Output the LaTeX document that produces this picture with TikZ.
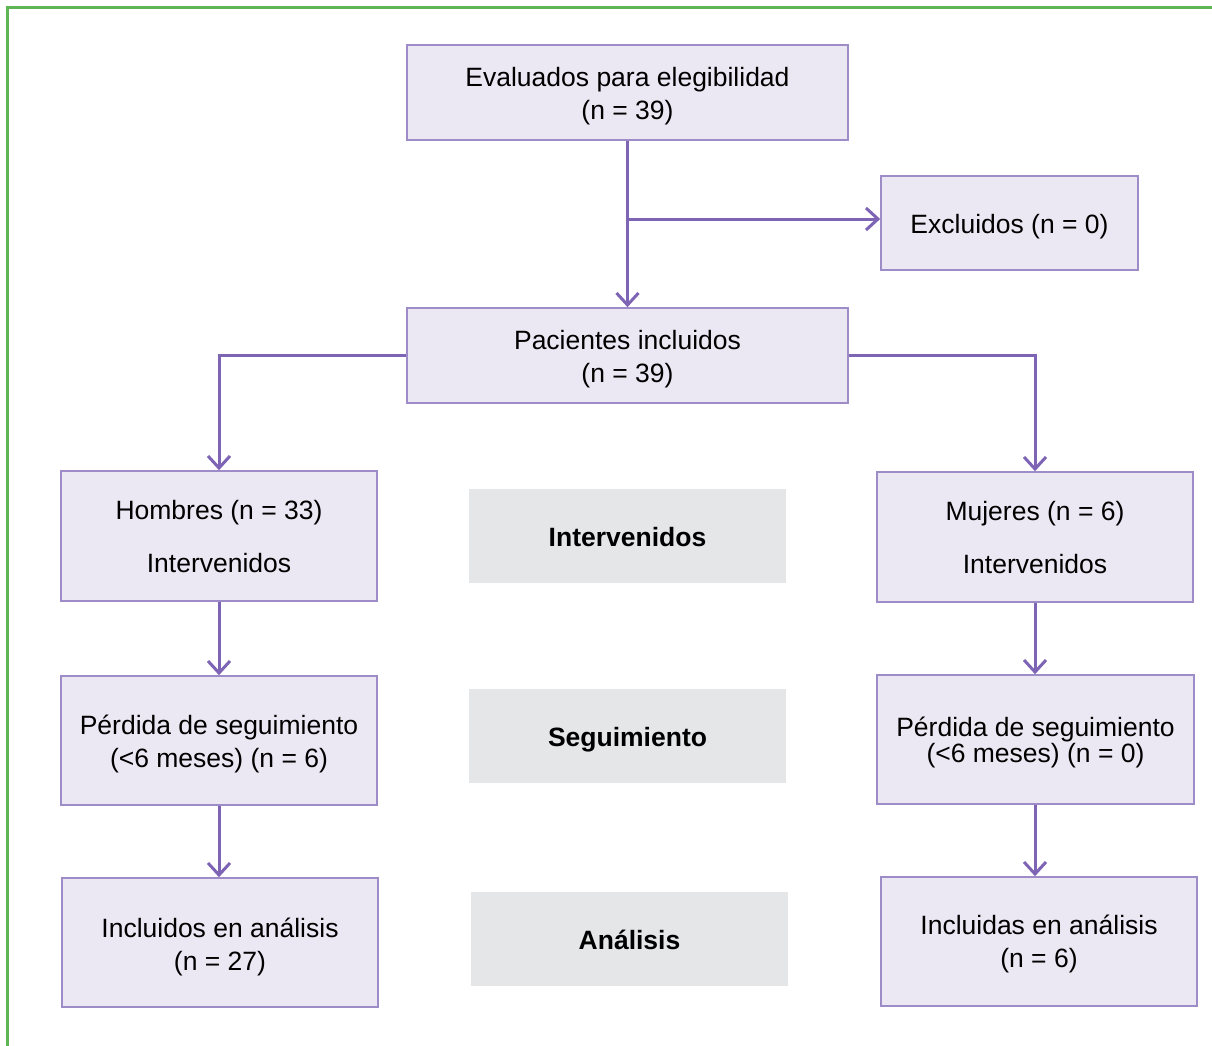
\documentclass[tikz,border=0pt]{standalone}
\usepackage{fontspec}
\setmainfont{Liberation Sans}
\usetikzlibrary{arrows.meta}
\definecolor{boxfill}{RGB}{236,232,243}
\definecolor{boxborder}{RGB}{158,140,200}
\definecolor{arrcol}{RGB}{126,100,180}
\definecolor{grayfill}{RGB}{229,230,232}
\definecolor{framegreen}{RGB}{95,180,85}
\begin{document}
\begin{tikzpicture}[x=1pt,y=-1pt,
  every node/.style={font=\fontsize{26.5}{33}\selectfont, inner sep=0pt, align=center},
  pbox/.style={draw=boxborder, fill=boxfill, line width=1.6pt, minimum width=#1},
  pbox/.default=316pt,
  gbox/.style={fill=grayfill, minimum width=317pt, minimum height=94pt},
  txt/.style={font=\fontsize{26.5}{33}\selectfont},
  btxt/.style={font=\fontsize{26.5}{33}\selectfont\bfseries},
  arr/.style={draw=arrcol, line width=3pt, -{Straight Barb[length=12pt,width=22pt,line width=3pt]}}
]
\useasboundingbox (0,0) rectangle (1212,1045);
\draw[framegreen, line width=3pt] (7,1046) -- (7,7) -- (1213,7);

\node[pbox=441pt, minimum height=95pt] (top) at (627.5,92.5) {};
\node[pbox=257pt, minimum height=94pt] (exc) at (1009.5,223) {};
\node[pbox=441pt, minimum height=95pt] (pac) at (627.5,355.5) {};
\node[pbox, minimum height=130pt] (hom) at (219,536) {};
\node[pbox, minimum height=130pt] (muj) at (1035,537) {};
\node[pbox, minimum height=129pt] (perl) at (219,740.5) {};
\node[pbox=317pt, minimum height=129pt] (perr) at (1035.5,739.5) {};
\node[pbox, minimum height=129pt] (incl) at (220,942.5) {};
\node[pbox, minimum height=129pt] (incr) at (1039,941.5) {};
\node[gbox] (g1) at (627.5,536) {};
\node[gbox] (g2) at (627.5,736) {};
\node[gbox] (g3) at (629.5,939) {};

\node[txt] (ttop) at ([yshift=-4pt]top.center) {Evaluados para elegibilidad\\(n = 39)};
\node[txt] (texc) at ([yshift=-4pt]exc.center) {Excluidos (n = 0)};
\node[txt] (tpac) at ([yshift=-4pt]pac.center) {Pacientes incluidos\\(n = 39)};
\node[txt] (thom) at ([yshift=-1pt]hom.center) {Hombres (n = 33)\\[20pt]Intervenidos};
\node[txt] (tmuj) at ([yshift=-1pt]muj.center) {Mujeres (n = 6)\\[20pt]Intervenidos};
\node[txt] (tperl) at ([yshift=-3pt]perl.center) {Pérdida de seguimiento\\(<6 meses) (n = 6)};
\node[txt] (tperr) at ([yshift=-3pt]perr.center) {Pérdida de seguimiento\\[-7pt](<6 meses) (n = 0)};
\node[txt] (tincl) at ([yshift=-4pt]incl.center) {Incluidos en análisis\\(n = 27)};
\node[txt] (tincr) at ([yshift=-2pt]incr.center) {Incluidas en análisis\\(n = 6)};
\node[btxt] (tg1) at ([yshift=-1pt]g1.center) {Intervenidos};
\node[btxt] (tg2) at ([yshift=-4pt]g2.center) {Seguimiento};
\node[btxt] (tg3) at ([yshift=-1pt]g3.center) {Análisis};

\draw[arr] (top.south) -- (pac.north);
\draw[arr] (top.south |- 0,219) -- ([yshift=4pt]exc.west);
\draw[arr] (pac.west) -| (hom.north);
\draw[arr] (pac.east) -| (muj.north);
\draw[arr] (hom.south) -- (perl.north);
\draw[arr] (muj.south) -- (muj.south |- perr.north);
\draw[arr] (perl.south) -- (perl.south |- incl.north);
\draw[arr] (perr.south -| muj.south) -- (muj.south |- incr.north);
\end{tikzpicture}
\end{document}
